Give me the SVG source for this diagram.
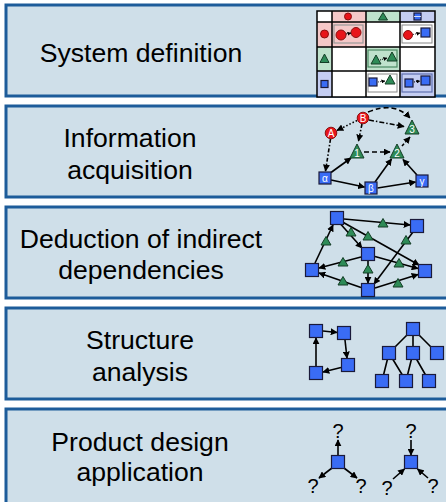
<svg xmlns="http://www.w3.org/2000/svg" width="446" height="502" viewBox="0 0 446 502">
<style>
.box{fill:#cfdfe9;stroke:#1d5c9a;stroke-width:3}
.lbl{font-family:"Liberation Sans",Arial,sans-serif;font-size:26.6px;fill:#000;text-anchor:middle}
.sq{fill:#3a6cf5;stroke:#1a1a3a;stroke-width:1.2}
.tri{fill:#2e8b57;stroke:#143d26;stroke-width:1}
.cir{fill:#e8141a;stroke:#8a1010;stroke-width:1}
.e{stroke:#000;stroke-width:1.6;fill:none}
.ea{stroke:#000;stroke-width:1.6;fill:none;marker-end:url(#ah)}
.nl{font-family:"Liberation Sans",Arial,sans-serif;font-size:10px;fill:#fff;text-anchor:middle}
.q{font-family:"Liberation Sans",Arial,sans-serif;font-size:20px;fill:#000;text-anchor:middle}
.grid{stroke:#000;stroke-width:1.5;fill:none}
.inner{fill:#fff;stroke:#888;stroke-width:1}
</style>
<defs>
<marker id="ah" viewBox="0 0 10 10" refX="9" refY="5" markerWidth="7" markerHeight="7" markerUnits="userSpaceOnUse" orient="auto"><path d="M0,0 L10,5 L0,10 z" fill="#000"/></marker>
<marker id="ahs" viewBox="0 0 10 10" refX="9" refY="5" markerWidth="4" markerHeight="4" markerUnits="userSpaceOnUse" orient="auto"><path d="M0,0 L10,5 L0,10 z" fill="#000"/></marker>
</defs>

<g id="step1">
<rect class="box" x="6" y="5" width="445" height="91"/>
<text class="lbl" x="141" y="62">System definition</text>
<g id="matrix">
<rect x="317" y="11" width="118" height="86" fill="#fff"/>
<rect x="332" y="11" width="34" height="11" fill="#f5c8c8"/>
<rect x="366" y="11" width="34" height="11" fill="#bfe2cc"/>
<rect x="400" y="11" width="35" height="11" fill="#c4cdf2"/>
<rect x="317" y="22" width="15" height="25" fill="#f5c8c8"/>
<rect x="317" y="47" width="15" height="24" fill="#bfe2cc"/>
<rect x="317" y="71" width="15" height="26" fill="#c4cdf2"/>
<rect x="332" y="22" width="34" height="25" fill="#f5c8c8"/>
<rect x="366" y="47" width="34" height="24" fill="#bfe2cc"/>
<rect x="400" y="71" width="35" height="26" fill="#c4cdf2"/>
<path class="grid" d="M317,11 H435 V97 H317 Z M332,11 V97 M366,11 V97 M400,11 V97 M317,22 H435 M317,47 H435 M317,71 H435"/>
<circle class="cir" cx="348" cy="16.5" r="3.5"/>
<polygon class="tri" points="383,12.5 387.5,20 378.5,20"/>
<rect class="sq" x="414" y="13" width="7" height="7"/>
<line x1="414" y1="16.5" x2="421" y2="16.5" stroke="#fff" stroke-width="0.8"/>
<circle class="cir" cx="324.5" cy="34" r="4"/>
<polygon class="tri" points="324.5,54 329,62.5 320,62.5"/>
<rect class="sq" x="321" y="80.5" width="7" height="7"/>
<rect x="334" y="25" width="29" height="18" fill="none" stroke="#999" stroke-width="1.2"/>
<circle class="cir" cx="341" cy="35" r="5"/>
<circle class="cir" cx="356" cy="32.5" r="5"/>
<line x1="346" y1="34" x2="351" y2="33" stroke="#000" stroke-width="1" stroke-dasharray="1 1" marker-end="url(#ahs)"/>
<rect class="inner" x="402" y="25" width="30" height="18"/>
<circle class="cir" cx="408" cy="35" r="4.5"/>
<rect class="sq" x="421" y="28" width="9" height="9"/>
<line x1="413" y1="34.5" x2="420" y2="33" stroke="#000" stroke-width="0.8" stroke-dasharray="1 1" marker-end="url(#ahs)"/>
<rect x="368" y="50" width="29" height="17" fill="none" stroke="#4c8a63" stroke-width="1.2"/>
<polygon class="tri" points="376,55 381,64 371,64"/>
<polygon class="tri" points="392,52 397,61 387,61"/>
<line x1="380" y1="60" x2="387" y2="58" stroke="#000" stroke-width="1" stroke-dasharray="1 1" marker-end="url(#ahs)"/>
<rect class="inner" x="368" y="74" width="29" height="18"/>
<rect class="sq" x="369" y="78" width="8" height="8"/>
<polygon class="tri" points="390,75 395,84 385,84"/>
<line x1="378" y1="82" x2="385" y2="81" stroke="#000" stroke-width="0.8" stroke-dasharray="1 1" marker-end="url(#ahs)"/>
<rect x="402" y="74" width="30" height="18" fill="none" stroke="#6070b0" stroke-width="1.2"/>
<rect class="sq" x="405" y="79" width="8" height="8"/>
<rect class="sq" x="421" y="76" width="9" height="9"/>
<line x1="414" y1="82" x2="420" y2="81" stroke="#000" stroke-width="1" stroke-dasharray="1 1" marker-end="url(#ahs)"/>
</g>
</g>

<g id="step2">
<rect class="box" x="6" y="106" width="445" height="91"/>
<text class="lbl" x="130" y="147">Information</text>
<text class="lbl" x="130" y="179">acquisition</text>
</g>
<g id="step3">
<rect class="box" x="6" y="207" width="445" height="91"/>
<text class="lbl" x="141" y="248">Deduction of indirect</text>
<text class="lbl" x="141" y="279">dependencies</text>
</g>
<g id="step4">
<rect class="box" x="6" y="308" width="445" height="91"/>
<text class="lbl" x="140" y="349">Structure</text>
<text class="lbl" x="140" y="381">analysis</text>
</g>
<g id="step5">
<rect class="box" x="6" y="409" width="445" height="100"/>
<text class="lbl" x="140" y="451">Product design</text>
<text class="lbl" x="140" y="481">application</text>
</g>

<g id="connectors">
<line class="ea" x1="357" y1="120.5" x2="337" y2="130.5" stroke-dasharray="1.5 2"/>
<path class="ea" d="M368,112 Q394,101 410,118" stroke-dasharray="5 3"/>
<line class="ea" x1="369" y1="120" x2="404" y2="126.5" stroke-dasharray="5 2 1.5 2"/>
<line class="ea" x1="362" y1="124" x2="358.5" y2="141" stroke-dasharray="4 2 1.5 2"/>
<line class="ea" x1="330.5" y1="139" x2="325.5" y2="171" stroke-dasharray="4 2 1.5 2"/>
<line class="ea" x1="364" y1="152" x2="390" y2="152" stroke-dasharray="5 3"/>
<line class="ea" x1="402" y1="146" x2="410" y2="137" stroke-dasharray="3 2"/>
<line class="ea" x1="331" y1="172.5" x2="351" y2="158"/>
<line class="ea" x1="331" y1="180" x2="364.5" y2="187"/>
<line class="ea" x1="375" y1="182" x2="391.5" y2="159"/>
<line class="ea" x1="377.5" y1="188" x2="415.5" y2="182"/>
<line class="ea" x1="417" y1="175" x2="403" y2="159.5"/>
<line class="ea" x1="315" y1="263" x2="333" y2="225"/>
<line class="ea" x1="344" y1="219" x2="410" y2="225"/>
<line class="ea" x1="341" y1="224.5" x2="362" y2="248"/>
<line class="ea" x1="342.5" y1="222" x2="419" y2="265"/>
<line class="ea" x1="413" y1="232" x2="374" y2="284"/>
<line class="ea" x1="361" y1="257" x2="319" y2="268"/>
<line class="ea" x1="375" y1="256.5" x2="418" y2="268.5"/>
<line class="ea" x1="368" y1="261" x2="368" y2="283"/>
<line class="ea" x1="361" y1="287.5" x2="319" y2="273"/>
<line class="ea" x1="375" y1="288" x2="418" y2="274.5"/>
<line class="ea" x1="323" y1="331" x2="337" y2="332.5"/>
<line class="ea" x1="345" y1="340" x2="347" y2="358"/>
<line class="ea" x1="341" y1="367.5" x2="323" y2="372"/>
<line class="ea" x1="316" y1="366" x2="316" y2="338"/>
<path class="e" d="M413,329 L389,353 M413,329 L413,353 M413,329 L437,353 M389,353 L382,381 M389,353 L406,381 M413,353 L406,381 M413,353 L429,381"/>
<line class="ea" x1="338" y1="455" x2="338" y2="440"/>
<line class="ea" x1="332" y1="468" x2="319" y2="478"/>
<line class="ea" x1="344" y1="468" x2="357" y2="478"/>
<line class="ea" x1="411" y1="440" x2="411" y2="455"/>
<line class="ea" x1="393" y1="479" x2="404.5" y2="469"/>
<line class="ea" x1="428" y1="478" x2="417.5" y2="469"/>
</g>

<g id="info-nodes">
<g id="nA"><circle class="cir" cx="331" cy="133" r="5.8"/><text class="nl" x="331" y="136.5">A</text></g>
<g id="nB"><circle class="cir" cx="363" cy="118" r="5.8"/><text class="nl" x="363" y="121.5">B</text></g>
<g id="n3"><polygon class="tri" points="412,120 419,134 405,134"/><text class="nl" x="412" y="133">3</text></g>
<g id="n1"><polygon class="tri" points="357,144 364,158 350,158"/><text class="nl" x="357" y="157">1</text></g>
<g id="n2"><polygon class="tri" points="397,144 404,158 390,158"/><text class="nl" x="397" y="157">2</text></g>
<g id="nalpha"><rect class="sq" x="319" y="172" width="12" height="12"/><text class="nl" x="325" y="182">α</text></g>
<g id="nbeta"><rect class="sq" x="365" y="182" width="12" height="12"/><text class="nl" x="371" y="192">β</text></g>
<g id="ngamma"><rect class="sq" x="416" y="175" width="12" height="12"/><text class="nl" x="422" y="185">γ</text></g>
</g>

<g id="deduction-nodes">
<polygon class="tri" points="326,236.5 331,245 321,245"/>
<polygon class="tri" points="383,218.5 388,227 378,227"/>
<polygon class="tri" points="351,227.5 356,236 346,236"/>
<polygon class="tri" points="368,231.5 373,240 363,240"/>
<polygon class="tri" points="406,235.5 411,244 401,244"/>
<polygon class="tri" points="343,257.5 348,266 338,266"/>
<polygon class="tri" points="399,258.5 404,267 394,267"/>
<polygon class="tri" points="368,264.5 373,273 363,273"/>
<polygon class="tri" points="343,276.5 348,285 338,285"/>
<polygon class="tri" points="398,278.5 403,287 393,287"/>
<g id="d1"><rect class="sq" x="330.5" y="211.5" width="13" height="13"/></g>
<g id="d2"><rect class="sq" x="410.5" y="219.5" width="13" height="13"/></g>
<g id="d3"><rect class="sq" x="361.5" y="247.5" width="13" height="13"/></g>
<g id="d4"><rect class="sq" x="305.5" y="263.5" width="13" height="13"/></g>
<g id="d5"><rect class="sq" x="418.5" y="264.5" width="13" height="13"/></g>
<g id="d6"><rect class="sq" x="361.5" y="283.5" width="13" height="13"/></g>
</g>

<g id="structure-nodes">
<rect class="sq" x="309.5" y="324.5" width="13" height="13"/>
<rect class="sq" x="337.5" y="326.5" width="13" height="13"/>
<rect class="sq" x="341.5" y="358.5" width="13" height="13"/>
<rect class="sq" x="309.5" y="366.5" width="13" height="13"/>
<rect class="sq" x="406.5" y="322.5" width="13" height="13"/>
<rect class="sq" x="382.5" y="346.5" width="13" height="13"/>
<rect class="sq" x="406.5" y="346.5" width="13" height="13"/>
<rect class="sq" x="430.5" y="346.5" width="13" height="13"/>
<rect class="sq" x="375.5" y="374.5" width="13" height="13"/>
<rect class="sq" x="399.5" y="374.5" width="13" height="13"/>
<rect class="sq" x="422.5" y="374.5" width="13" height="13"/>
</g>

<g id="design-nodes">
<rect class="sq" x="331.5" y="455.5" width="13" height="13"/>
<text class="q" x="338" y="438">?</text>
<text class="q" x="313" y="493">?</text>
<text class="q" x="361" y="493">?</text>
<rect class="sq" x="404.5" y="455.5" width="13" height="13"/>
<text class="q" x="411" y="438">?</text>
<text class="q" x="387" y="495">?</text>
<text class="q" x="433" y="493">?</text>
</g>
</svg>
